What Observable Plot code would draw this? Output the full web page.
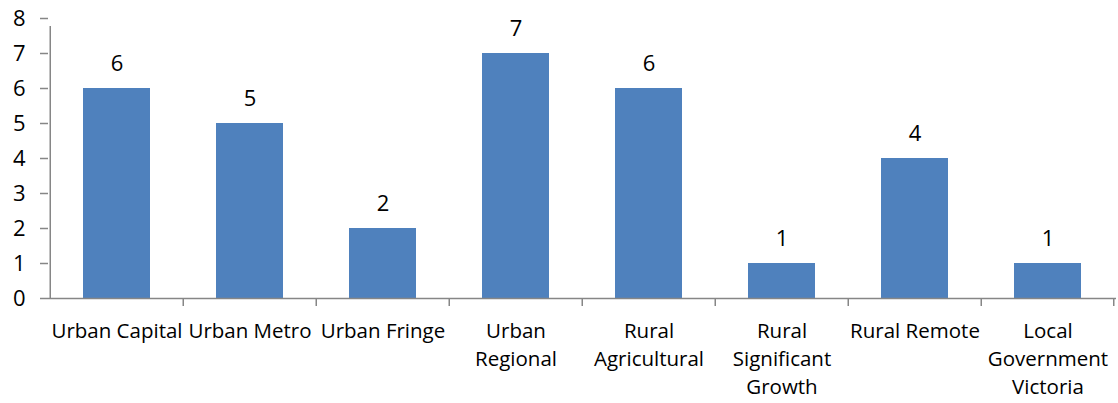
<!DOCTYPE html>
<html>
<head>
<meta charset="utf-8">
<script src="https://cdn.jsdelivr.net/npm/d3@7"></script>
<script src="https://cdn.jsdelivr.net/npm/@observablehq/plot@0.6"></script>
<style>
  html, body { margin: 0; padding: 0; background: #fff; }
  #chart { width: 1118px; height: 403px; }
</style>
</head>
<body>
<div id="chart"></div>
<script>
const categories = ["Urban Capital", "Urban Metro", "Urban Fringe", "Urban Regional", "Rural Agricultural", "Rural Significant Growth", "Rural Remote", "Local Government Victoria"];
const tickLabels = ["Urban Capital", "Urban Metro", "Urban Fringe", "Urban\nRegional", "Rural\nAgricultural", "Rural\nSignificant\nGrowth", "Rural Remote", "Local\nGovernment\nVictoria"];
const values = [6, 5, 2, 7, 6, 1, 4, 1];
const yTicks = [0, 1, 2, 3, 4, 5, 6, 7, 8];

const data = categories.map((c, i) => ({category: c, value: values[i], label: tickLabels[i]}));
const labelOf = new Map(categories.map((c, i) => [c, tickLabels[i]]));

const W = 1118, H = 403, ML = 48, MR = 2, MT = 18, MB = 105;
const step = (W - ML - MR) / categories.length;
const axisColor = "#868686";
const font = "'Open Sans', 'Noto Sans', sans-serif";

const plot = Plot.plot({
  width: W,
  height: H,
  marginLeft: ML,
  marginRight: MR,
  marginTop: MT,
  marginBottom: MB,
  style: {fontFamily: font, fontSize: "20px", color: "#000", background: "#fff"},
  x: {domain: categories, paddingInner: 0.5, paddingOuter: 0.25, label: null},
  y: {domain: [0, 8], label: null},
  marks: [
    Plot.barY(data, {x: "category", y: "value", fill: "#4F81BD"}),
    Plot.text(data, {x: "category", y: "value", text: d => String(d.value), lineAnchor: "bottom", dy: -18, fontSize: 22, fill: "#000"}),
    Plot.ruleY([0], {stroke: axisColor, strokeWidth: 1.5}),
    Plot.ruleX([categories[0]], {x: d => d, dx: -step / 2, y1: 0, y2: 8, insetBottom: -8, stroke: axisColor, strokeWidth: 1.5}),
    Plot.ruleX(categories.slice(1), {x: d => d, dx: -step / 2, y1: 0, y2: 0, insetBottom: -8, stroke: axisColor, strokeWidth: 1.5}),
    Plot.ruleX([categories[categories.length - 1]], {x: d => d, dx: step / 2 - 1, y1: 0, y2: 0, insetBottom: -8, stroke: axisColor, strokeWidth: 1.5}),
    Plot.axisY({ticks: yTicks, tickSize: 8, tickPadding: 15, stroke: axisColor, strokeWidth: 1.5, fontSize: 22, fill: "#000", label: null}),
    Plot.axisX({tickSize: 0, tickPadding: 19, lineHeight: 1.38, fontSize: 20.5, fill: "#000", tickFormat: d => labelOf.get(d), label: null})
  ]
});
document.getElementById("chart").appendChild(plot);
</script>
</body>
</html>
